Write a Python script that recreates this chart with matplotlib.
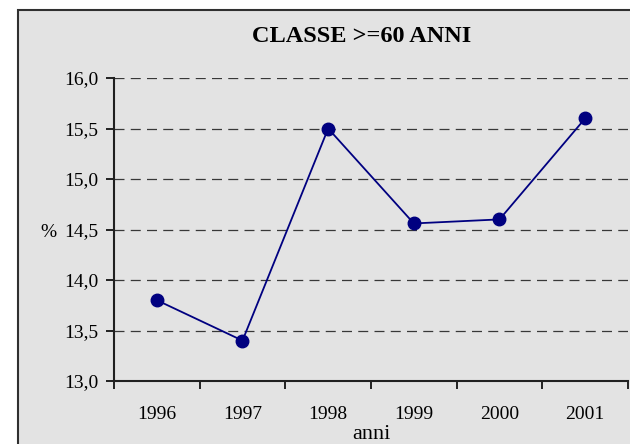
import numpy as np
import matplotlib.pyplot as plt
from matplotlib.patches import Rectangle
from matplotlib.ticker import FuncFormatter

# Data
anni = ["1996", "1997", "1998", "1999", "2000", "2001"]
valori = [13.8, 13.4, 15.5, 14.56, 14.6, 15.6]

plt.rcParams['font.family'] = ['Liberation Serif', 'DejaVu Serif']

BG = "#e3e3e3"
NAVY = "#000080"

fig = plt.figure(figsize=(6.3, 4.44), dpi=100)
fig.patch.set_facecolor("white")

# chart area frame (runs off the right/bottom edge)
frame = Rectangle((18 / 630, -0.1), 1.2, 1 - 10 / 444 + 0.1,
                  transform=fig.transFigure, facecolor=BG,
                  edgecolor="#303030", linewidth=1.5, zorder=-5)
fig.patches.append(frame)

ax = fig.add_axes([114 / 630, 1 - 381 / 444, (628 - 114) / 630, (381 - 78) / 444])
ax.set_facecolor(BG)

x = np.arange(len(anni))
ax.plot(x, valori, color=NAVY, linewidth=1.3, marker="o", markersize=9,
        markerfacecolor=NAVY, markeredgecolor=NAVY, zorder=3)

ax.set_xlim(-0.5, len(anni) - 0.5)
ax.set_ylim(13.0, 16.0)
ax.set_yticks(np.arange(13.0, 16.01, 0.5))
ax.yaxis.set_major_formatter(FuncFormatter(lambda v, p: f"{v:.1f}".replace(".", ",")))

# ticks at category boundaries, labels at category centres
ax.set_xticks(np.arange(-0.5, len(anni), 1.0))
ax.set_xticklabels([])
ax.set_xticks(x, minor=True)
ax.set_xticklabels(anni, minor=True)
ax.tick_params(axis="x", which="major", direction="out", length=5.5, width=1.2, color="black")
ax.tick_params(axis="x", which="minor", length=0, pad=18, labelsize=14)
ax.tick_params(axis="y", direction="out", length=5.5, width=1.2, pad=6, labelsize=14)

ax.grid(axis="y", color="#383838", linestyle=(0, (8, 5)), linewidth=0.9)
ax.set_axisbelow(True)

for s in ["top", "right"]:
    ax.spines[s].set_visible(False)
for s in ["left", "bottom"]:
    ax.spines[s].set_linewidth(1.5)
    ax.spines[s].set_color("#202020")

fig.text(362 / 630, 1 - 37 / 444, "CLASSE >=60 ANNI", ha="center", va="center",
         fontsize=17.5, fontweight="bold")
fig.text(48 / 630, 1 - 232 / 444, "%", ha="center", va="center", fontsize=14)
fig.text(371 / 630, 1 - 434 / 444, "anni", ha="center", va="center", fontsize=16)

fig.savefig("out.png", dpi=100, facecolor=fig.get_facecolor())
